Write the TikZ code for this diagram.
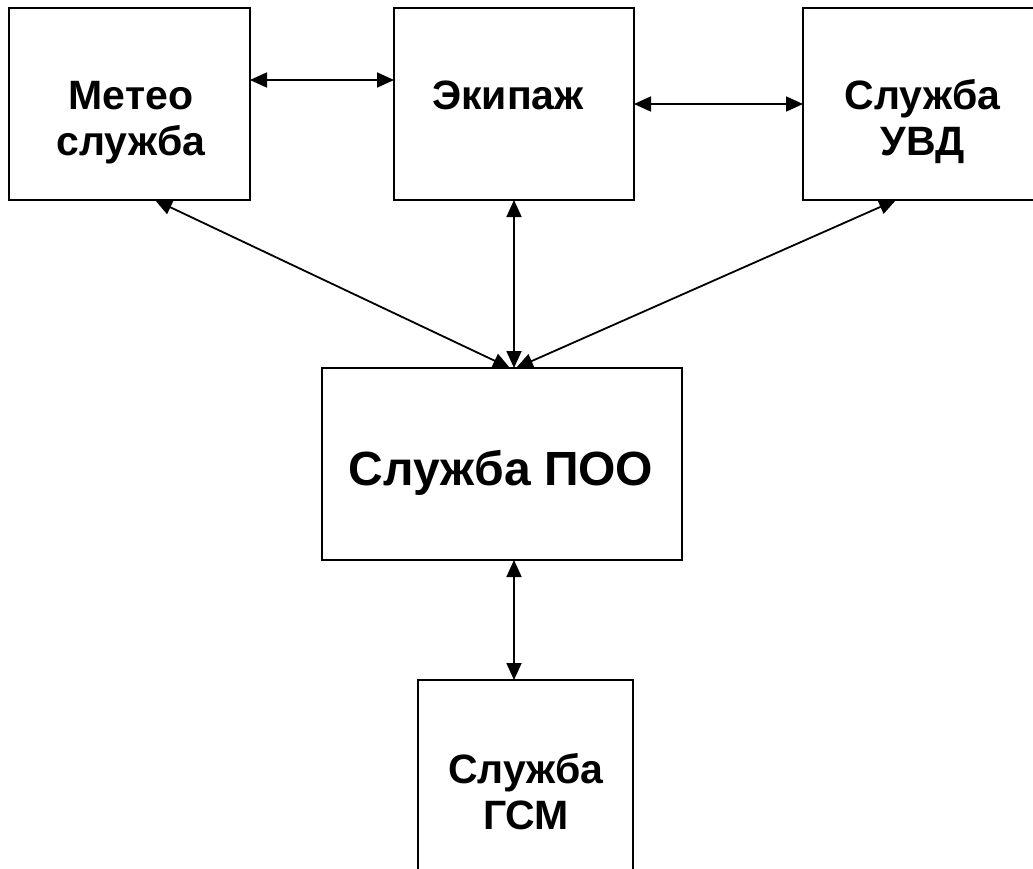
\documentclass[tikz,border=0pt]{standalone}
\usepackage{fontspec}
\setmainfont{Liberation Sans}
\usetikzlibrary{arrows.meta}
\begin{document}
\begin{tikzpicture}[x=1pt,y=-1pt,
  box/.style={draw, line width=2pt, inner sep=0pt, outer sep=0pt},
  lbl/.style={anchor=base, align=center, inner sep=0pt, font=\fontsize{41}{46.5}\selectfont\bfseries},
  biglbl/.style={anchor=base, align=center, inner sep=0pt, font=\fontsize{48}{58}\selectfont\bfseries},
  conn/.style={line width=1.8pt, <->, >={Triangle[length=17pt,width=15pt]}}]
\useasboundingbox (0,0) rectangle (1033,868);
\clip (0,0) rectangle (1033,868);
\fill[white] (0,0) rectangle (1033,868);
% boxes
\node[box, minimum width=241pt, minimum height=192pt] (meteo) at (129.5,104) {};
\node[box, minimum width=240pt, minimum height=192pt] (ek) at (514,104) {};
\node[box, minimum width=242pt, minimum height=192pt] (uvd) at (924,104) {};
\node[box, minimum width=360pt, minimum height=192pt] (poo) at (502,464) {};
\node[box, minimum width=215pt, minimum height=210pt] (gsm) at (525.5,785) {};
% labels (base anchor = last line)
\node[lbl] (tmeteo) at (131,155.5) {Метео\\служба};
\node[lbl] (tek) at (508,109) {Экипаж};
\node[lbl] (tuvd) at (922.5,155.5) {Служба\\УВД};
\node[biglbl] (tpoo) at (501,485) {Служба ПОО};
\node[lbl] (tgsm) at (526,829.5) {Служба\\ГСМ};
% connectors
\draw[conn] ([yshift=24pt]meteo.east) -- ([yshift=24pt]ek.west);
\draw[conn] (ek.east) -- (uvd.west);
\draw[conn] (ek.south) -- (ek.south |- poo.north);
\draw[conn] ([xshift=25.5pt]meteo.south) -- ([xshift=8pt]poo.north);
\draw[conn] ([xshift=-28pt]uvd.south) -- ([xshift=14pt]poo.north);
\draw[conn] (ek.south |- poo.south) -- (ek.south |- gsm.north);
\end{tikzpicture}
\end{document}
